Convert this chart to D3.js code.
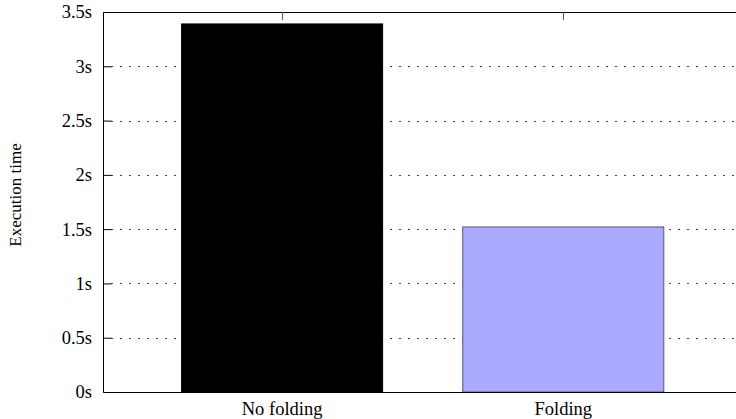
<!DOCTYPE html>
<html>
<head>
<meta charset="utf-8">
<script src="https://cdn.jsdelivr.net/npm/d3@7"></script>
<style>
  body { margin: 0; background: #fff; }
  svg text { font-family: "Liberation Serif", serif; font-size: 18.5px; }
</style>
</head>
<body>
<svg id="chart"></svg>
<script>
// データ
const categories = ["No folding", "Folding"];
const times = [3.39, 1.52];
const barColors = ["#000000", "#aaaaff"];
const yTicks = [0, 0.5, 1, 1.5, 2, 2.5, 3, 3.5];

const width = 736;
const height = 419;
const plotLeft = 103, plotTop = 12, plotRight = 737.6, plotBottom = 392;

var svg = d3.select("#chart")
            .attr("width", width)
            .attr("height", height);

var x = d3.scaleLinear()
            .domain([-0.637, 1.62])
            .range([plotLeft, plotRight]);

var y = d3.scaleLinear()
            .domain([0, 3.5])
            .range([plotBottom, plotTop]);

const barW = 0.715;

// グリッド線
svg.append("g")
    .selectAll("line")
    .data(yTicks.slice(1, -1))
    .enter().append("line")
    .attr("x1", plotLeft + 8)
    .attr("x2", plotRight)
    .attr("y1", d => Math.round(y(d)) + 0.5)
    .attr("y2", d => Math.round(y(d)) + 0.5)
    .attr("stroke", "#444")
    .attr("stroke-width", 1)
    .attr("stroke-dasharray", "2,7");

// 棒グラフ
svg.append("g")
    .selectAll("rect")
    .data(times)
    .enter().append("rect")
    .attr("x", (d, i) => x(i - barW / 2))
    .attr("y", d => y(d))
    .attr("width", (d, i) => x(i + barW / 2) - x(i - barW / 2))
    .attr("height", d => plotBottom - y(d))
    .attr("fill", (d, i) => barColors[i])
    .attr("stroke", (d, i) => i == 0 ? "#000" : "#555577")
    .attr("stroke-width", 1);

// 枠線
svg.append("path")
    .attr("d", `M${plotRight},${plotTop + 0.5}H${plotLeft + 0.5}V${plotBottom + 0.5}H${plotRight}`)
    .attr("fill", "none")
    .attr("stroke", "#000")
    .attr("stroke-width", 1);

// y軸の目盛り
var yAxis = d3.axisLeft(y)
                .tickValues(yTicks)
                .tickFormat(d => d + "s")
                .tickSize(-8)
                .tickPadding(11.5);

svg.append("g")
    .attr("transform", `translate(${plotLeft + 0.5},0)`)
    .call(yAxis)
    .call(g => g.select(".domain").remove())
    .call(g => g.selectAll("text").attr("fill", "#000"));

// x軸 (上の目盛り)
svg.append("g")
    .selectAll("line")
    .data(categories)
    .enter().append("line")
    .attr("x1", (d, i) => Math.round(x(i)) + 0.5)
    .attr("x2", (d, i) => Math.round(x(i)) + 0.5)
    .attr("y1", plotTop)
    .attr("y2", plotTop + 8)
    .attr("stroke", "#555");

// カテゴリ名
svg.append("g")
    .selectAll("text")
    .data(categories)
    .enter().append("text")
    .attr("x", (d, i) => x(i))
    .attr("y", plotBottom + 23)
    .attr("text-anchor", "middle")
    .text(d => d);

// y軸ラベル
svg.append("text")
    .attr("transform", "translate(21,195) rotate(-90)")
    .attr("text-anchor", "middle")
    .style("font-size", "17px")
    .text("Execution time");
</script>
</body>
</html>
